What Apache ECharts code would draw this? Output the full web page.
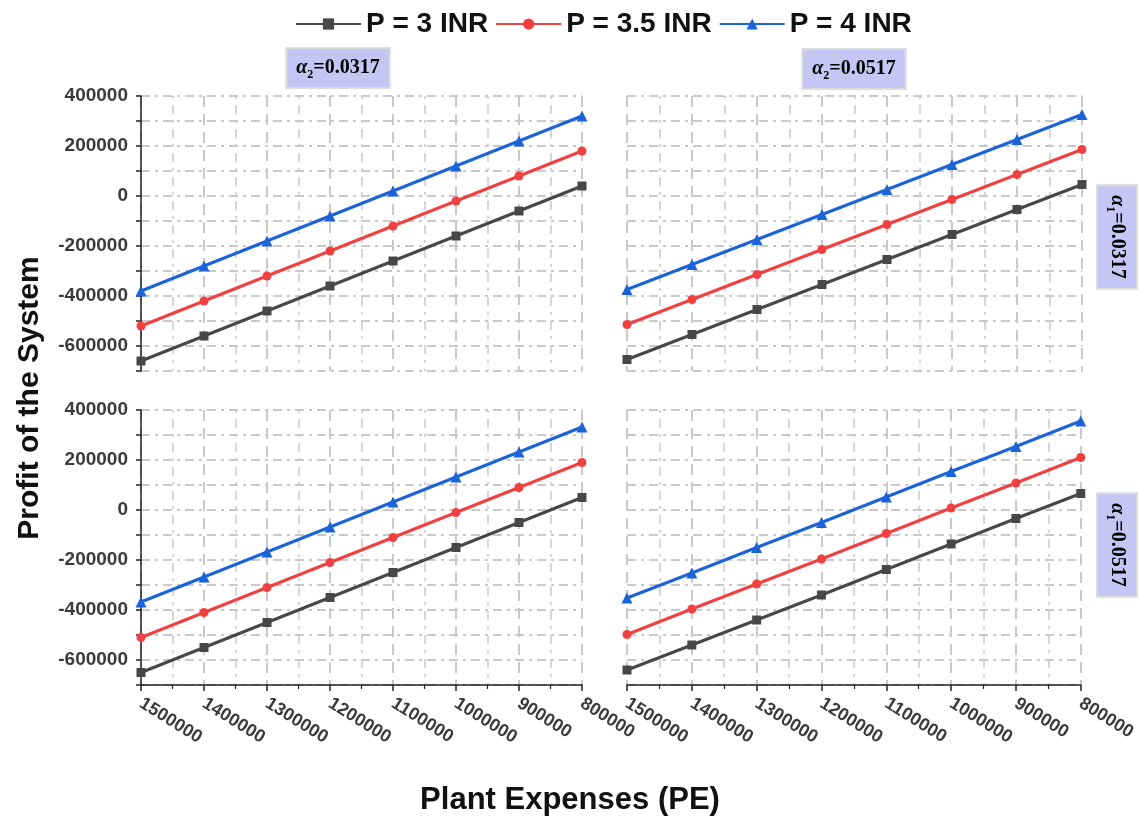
<!DOCTYPE html>
<html>
<head>
<meta charset="utf-8">
<title>Profit of the System</title>
<script src="https://cdn.jsdelivr.net/npm/echarts@6/dist/echarts.min.js"></script>
<style>
html, body { margin: 0; padding: 0; background: #fff; }
#chart { width: 1139px; height: 821px; }
</style>
</head>
<body>
<div id="chart"></div>
<script>
// x 轴: 电厂费用 (从大到小排)
const plantExpenses = [1500000, 1400000, 1300000, 1200000, 1100000, 1000000, 900000, 800000]
const seriesNames = ['P = 3 INR', 'P = 3.5 INR', 'P = 4 INR']
// y 轴上显示文字的刻度
const yLabelValues = [-600000, -400000, -200000, 0, 200000, 400000]

// 左上: a1=0.0317, a2=0.0317
const tlP3 = [-660000, -560000, -460000, -360000, -260000, -160000, -60000, 40000]
const tlP35 = [-520000, -420000, -320000, -220000, -120000, -20000, 80000, 180000]
const tlP4 = [-380000, -280000, -180000, -80000, 20000, 120000, 220000, 320000]
// 右上: a1=0.0317, a2=0.0517
const trP3 = [-654000, -554000, -454000, -354000, -254000, -154000, -54000, 46000]
const trP35 = [-514000, -414000, -314000, -214000, -114000, -14000, 86000, 186000]
const trP4 = [-374000, -274000, -174000, -74000, 26000, 126000, 226000, 326000]
// 左下: a1=0.0517, a2=0.0317
const blP3 = [-650000, -550000, -450000, -350000, -250000, -150000, -50000, 50000]
const blP35 = [-510000, -410000, -310000, -210000, -110000, -10000, 90000, 190000]
const blP4 = [-368000, -268000, -168000, -68000, 32000, 132000, 232000, 332000]
// 右下: a1=0.0517, a2=0.0517
const brP3 = [-640000, -540000, -440000, -340000, -238000, -136000, -34000, 66000]
const brP35 = [-498000, -396000, -296000, -196000, -94000, 8000, 108000, 210000]
const brP4 = [-352000, -252000, -150000, -50000, 52000, 154000, 254000, 356000]

const panels = [
  [tlP3, tlP35, tlP4],
  [trP3, trP35, trP4],
  [blP3, blP35, blP4],
  [brP3, brP35, brP4]
]

const colors = ['#474747', '#f23f3f', '#1b63d8']
const symbols = ['rect', 'circle', 'triangle']
const gridColor = '#c9c9c9'
const sansFont = 'Liberation Sans, Arial, sans-serif'

const myChart = echarts.init(document.getElementById('chart'))

// 四个面板的位置
const grids = [
  { left: 141, top: 96, width: 441, height: 275 },
  { left: 627, top: 96, width: 455, height: 275 },
  { left: 141, top: 410, width: 441, height: 275 },
  { left: 627, top: 410, width: 454, height: 275 }
]

const xAxes = []
const yAxes = []
const series = []
grids.forEach((g, i) => {
  const isBottom = i >= 2
  const isLeft = i % 2 === 0
  xAxes.push({
    gridIndex: i,
    type: 'value',
    inverse: true,
    min: 800000,
    max: 1500000,
    interval: 100000,
    axisLine: { show: isBottom, onZero: false, lineStyle: { color: '#222', width: 1.5 } },
    axisTick: { show: isBottom, length: 6, lineStyle: { color: '#222', width: 1.5 } },
    minorTick: { show: isBottom, splitNumber: 2, length: 4, lineStyle: { color: '#222', width: 1.2 } },
    axisLabel: {
      show: isBottom,
      rotate: -32,
      margin: 17,
      color: '#3a3a3a',
      fontSize: 18,
      fontWeight: 'bold',
      fontFamily: sansFont,
      formatter: (v) => String(v)
    },
    splitLine: { show: true, lineStyle: { color: gridColor, width: 2, type: [11, 7] } },
    minorSplitLine: { show: true, lineStyle: { color: gridColor, width: 1.5, type: [3, 6, 9, 6] } }
  })
  yAxes.push({
    gridIndex: i,
    type: 'value',
    min: -700000,
    max: 400000,
    interval: 100000,
    axisLine: { show: isLeft, lineStyle: { color: '#222', width: 1.5 } },
    axisTick: { show: isLeft, length: 5, lineStyle: { color: '#222', width: 1.5 } },
    axisLabel: {
      show: isLeft,
      margin: 13,
      color: '#3a3a3a',
      fontSize: 19,
      fontWeight: 'bold',
      fontFamily: sansFont,
      formatter: (v) => (yLabelValues.indexOf(v) >= 0 ? String(v) : '')
    },
    splitLine: { show: true, lineStyle: { color: gridColor, width: 2, type: [9, 5, 3, 5] } }
  })
  panels[i].forEach((vals, k) => {
    series.push({
      name: seriesNames[k],
      type: 'line',
      xAxisIndex: i,
      yAxisIndex: i,
      symbol: symbols[k],
      symbolSize: k === 2 ? 11 : 9,
      showAllSymbol: true,
      color: colors[k],
      lineStyle: { width: 3, color: colors[k] },
      itemStyle: { color: colors[k] },
      data: plantExpenses.map((x, n) => [x, vals[n]])
    })
  })
})

// 面板标签 (紫色小框)
const stripText = (name) => ({
  rich: {
    a: { fontSize: 20, fontWeight: 'bold', fontStyle: 'italic', fontFamily: 'Liberation Serif, serif', color: '#111', lineHeight: 26 },
    s: { fontSize: 12, fontWeight: 'bold', fontFamily: 'Liberation Serif, serif', color: '#111', verticalAlign: 'bottom', lineHeight: 14 },
    b: { fontSize: 20, fontWeight: 'bold', fontFamily: 'Liberation Serif, serif', color: '#111', lineHeight: 26 }
  },
  text: name,
  align: 'center',
  verticalAlign: 'middle',
  backgroundColor: '#c6c6f4',
  borderColor: '#dcdcdc',
  borderWidth: 2,
  padding: [6, 9, 6, 9]
})

const chartopt = {
  animation: false,
  legend: {
    data: seriesNames,
    top: 5,
    left: 290,
    itemWidth: 65,
    itemHeight: 14,
    itemGap: 7,
    textStyle: { fontSize: 28, fontWeight: 'bold', color: '#111', fontFamily: sansFont }
  },
  grid: grids,
  xAxis: xAxes,
  yAxis: yAxes,
  series: series,
  graphic: [
    {
      type: 'text',
      x: 30,
      y: 398,
      rotation: Math.PI / 2,
      style: {
        text: 'Profit of the System',
        align: 'center',
        verticalAlign: 'middle',
        fontSize: 30,
        fontWeight: 'bold',
        fill: '#111',
        fontFamily: sansFont
      }
    },
    {
      type: 'text',
      x: 570,
      y: 800,
      style: {
        text: 'Plant Expenses (PE)',
        align: 'center',
        verticalAlign: 'middle',
        fontSize: 31,
        fontWeight: 'bold',
        fill: '#111',
        fontFamily: sansFont
      }
    },
    { type: 'text', x: 338, y: 68, style: stripText('{a|α}{s|2}{b|=0.0317}') },
    { type: 'text', x: 854, y: 69, style: stripText('{a|α}{s|2}{b|=0.0517}') },
    { type: 'text', x: 1117, y: 237, rotation: -Math.PI / 2, style: stripText('{a|α}{s|1}{b|=0.0317}') },
    { type: 'text', x: 1117, y: 545, rotation: -Math.PI / 2, style: stripText('{a|α}{s|1}{b|=0.0517}') }
  ]
}
myChart.setOption(chartopt)
</script>
</body>
</html>
